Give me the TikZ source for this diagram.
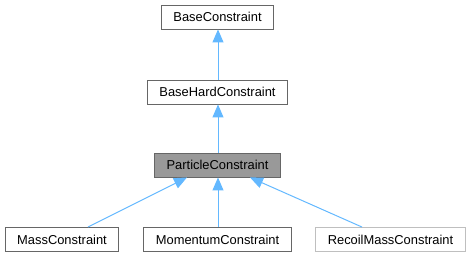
\documentclass[tikz,border=0pt]{standalone}
\usepackage{fontspec}
\setmainfont{Liberation Sans}
\usetikzlibrary{arrows.meta}
\definecolor{edgeblue}{HTML}{63B8FF}
\definecolor{boxborder}{HTML}{666666}
\definecolor{boxgray}{HTML}{999999}
\definecolor{lightborder}{HTML}{BFBFBF}
\begin{document}
\begin{tikzpicture}[x=1pt,y=1pt,
  cls/.style={draw=boxborder, fill=white, line width=0.9pt, rectangle,
    inner xsep=12pt, inner ysep=0pt, minimum height=24pt,
    font=\fontsize{12.9}{15}\selectfont, text=black},
  cur/.style={cls, fill=boxgray},
  ext/.style={cls, draw=lightborder},
  edge/.style={draw=edgeblue, line width=1pt,
    -{Triangle[length=13pt,width=11pt,fill=edgeblue]}}]
\useasboundingbox (0,0) rectangle (471,256);
\node[cls] (base) at (217.5,239) {BaseConstraint};
\node[cls] (hard) at (217.5,164) {BaseHardConstraint};
\node[cur] (pc) at (217.5,91) {ParticleConstraint};
\node[cls] (mass) at (62,16.5) {MassConstraint};
\node[cls] (mom) at (217.5,16.5) {MomentumConstraint};
\node[ext] (rec) at (390.5,16.5) {RecoilMassConstraint};
\draw[edge] ([xshift=0.5pt]hard.north) -- ([xshift=0.5pt]base.south);
\draw[edge] ([xshift=0.5pt]pc.north) -- ([xshift=0.5pt]hard.south);
\draw[edge] ([xshift=26pt]mass.north) -- ([xshift=-30.5pt]pc.south);
\draw[edge] ([xshift=0.5pt]mom.north) -- ([xshift=0.5pt]pc.south);
\draw[edge] ([xshift=-28.5pt]rec.north) -- ([xshift=32.5pt]pc.south);
\end{tikzpicture}
\end{document}
